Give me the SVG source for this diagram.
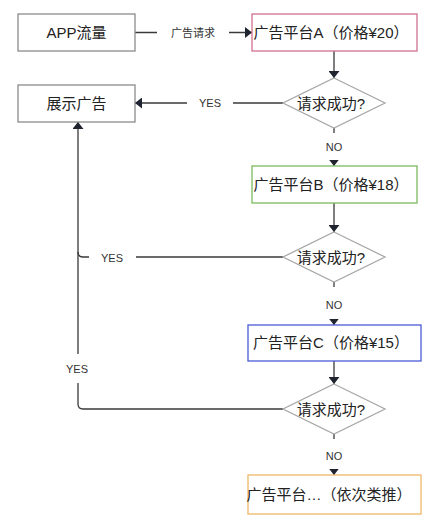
<svg xmlns="http://www.w3.org/2000/svg" width="445" height="524" viewBox="0 0 445 524">
<style>
text{font-family:"Liberation Sans","Noto Sans CJK SC",sans-serif;fill:#222;text-anchor:middle}
.t{font-size:15px}
.l{font-size:11px;fill:#333}
.box{fill:#fff;stroke:#8c8c8c;stroke-width:1.3}
.dia{fill:#fff;stroke:#a8a8a8;stroke-width:1.3}
.c{fill:none;stroke:#3a3a3a;stroke-width:1.3}
.bg{fill:#fff}
</style>
<defs>
<marker id="ah" markerUnits="userSpaceOnUse" markerWidth="8" markerHeight="11" refX="7" refY="5.5" orient="auto">
<path d="M0,0 L7,5.5 L0,11 z" fill="#1f2430"/>
</marker>
</defs>
<g id="connectors">
<path class="c" d="M135,32.5 H252" marker-end="url(#ah)"/>
<path class="c" d="M334,51 V78" marker-end="url(#ah)"/>
<path class="c" d="M283,103 H135" marker-end="url(#ah)"/>
<path class="c" d="M334,128 V166" marker-end="url(#ah)"/>
<path class="c" d="M334,203 V232" marker-end="url(#ah)"/>
<path class="c" d="M283,257 H83 Q78,257 78,252"/>
<path class="c" d="M334,282 V325" marker-end="url(#ah)"/>
<path class="c" d="M334,361 V384" marker-end="url(#ah)"/>
<path class="c" d="M283,409 H83 Q78,409 78,404 V122" marker-end="url(#ah)"/>
<path class="c" d="M334,434 V475" marker-end="url(#ah)"/>
<rect class="bg" x="157" y="24" width="72" height="18"/>
<text class="l" x="193" y="37">广告请求</text>
<rect class="bg" x="187" y="95" width="46" height="16"/>
<text class="l" x="210" y="107">YES</text>
<rect class="bg" x="320" y="133" width="28" height="27"/>
<text class="l" x="334" y="151">NO</text>
<rect class="bg" x="89" y="249" width="47" height="16"/>
<text class="l" x="112" y="262">YES</text>
<rect class="bg" x="320" y="287" width="28" height="32"/>
<text class="l" x="334" y="309">NO</text>
<rect class="bg" x="62" y="354" width="30" height="29"/>
<text class="l" x="77" y="373">YES</text>
<rect class="bg" x="320" y="439" width="28" height="30"/>
<text class="l" x="334" y="460">NO</text>
</g>
<g id="n_app"><rect class="box" x="18" y="14" width="117" height="37"/><text class="t" x="76.5" y="38">APP流量</text></g>
<g id="n_a"><rect class="box" x="252" y="14" width="165" height="37" style="stroke:#d0708e"/><text class="t" x="331" y="38">广告平台A（价格¥20）</text></g>
<g id="n_show"><rect class="box" x="18" y="85" width="117" height="37"/><text class="t" x="76.5" y="109">展示广告</text></g>
<g id="d1"><polygon class="dia" points="334,78 385,103 334,128 283,103"/><text class="t" x="331" y="109">请求成功?</text></g>
<g id="n_b"><rect class="box" x="252" y="166" width="165" height="37" style="stroke:#7cba5f"/><text class="t" x="331" y="190">广告平台B（价格¥18）</text></g>
<g id="d2"><polygon class="dia" points="334,232 385,257 334,282 283,257"/><text class="t" x="331" y="263">请求成功?</text></g>
<g id="n_c"><rect class="box" x="248" y="325" width="173" height="36" style="stroke:#4b5bd6"/><text class="t" x="331" y="348">广告平台C（价格¥15）</text></g>
<g id="d3"><polygon class="dia" points="334,384 385,409 334,434 283,409"/><text class="t" x="331" y="415">请求成功?</text></g>
<g id="n_d"><rect class="box" x="248" y="475" width="173" height="39" style="stroke:#efb868"/><text class="t" x="329" y="500">广告平台…（依次类推）</text></g>
</svg>
